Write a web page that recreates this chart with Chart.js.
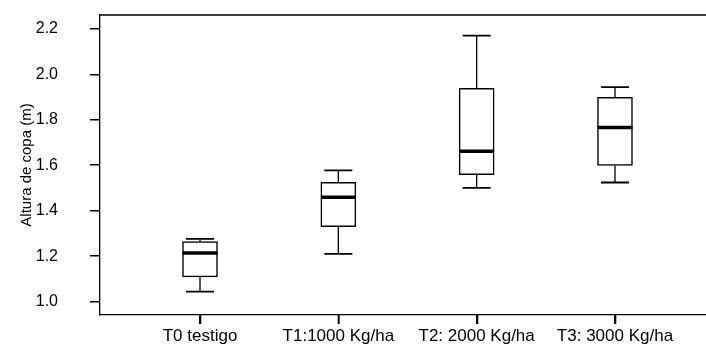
<!DOCTYPE html>
<html>
<head>
<meta charset="utf-8">
<script src="https://cdn.jsdelivr.net/npm/chart.js@4/dist/chart.umd.min.js"></script>
<style>
  html, body { margin: 0; padding: 0; background: #fff; }
  #wrap { width: 706px; height: 355px; }
</style>
</head>
<body>
<div id="wrap"><canvas id="c" width="706" height="355"></canvas></div>
<script>
// Data
const categories = ['T0 testigo', 'T1:1000 Kg/ha', 'T2: 2000 Kg/ha', 'T3: 3000 Kg/ha'];
const whiskerMin = [1.044, 1.210, 1.500, 1.524];
const quartile1  = [1.109, 1.330, 1.558, 1.599];
const medians    = [1.214, 1.459, 1.661, 1.766];
const quartile3  = [1.264, 1.525, 1.938, 1.899];
const whiskerMax = [1.276, 1.577, 2.170, 1.944];
const yTicks = [1.0, 1.2, 1.4, 1.6, 1.8, 2.0, 2.2];

const boxData = categories.map((c, i) => ({ x: i, y: [quartile1[i], quartile3[i]] }));

const boxPlugin = {
  id: 'boxExtras',
  afterDatasetsDraw(chart) {
    const ctx = chart.ctx;
    const xs = chart.scales.x, ys = chart.scales.y;
    ctx.save();
    ctx.setLineDash([]);
    ctx.strokeStyle = '#000';
    categories.forEach((c, i) => {
      const x = xs.getPixelForValue(i);
      const yMin = ys.getPixelForValue(whiskerMin[i]);
      const yQ1 = ys.getPixelForValue(quartile1[i]);
      const yQ3 = ys.getPixelForValue(quartile3[i]);
      const yMax = ys.getPixelForValue(whiskerMax[i]);
      const yMed = ys.getPixelForValue(medians[i]);
      const capHalf = 14;
      const boxHalf = 17.5;
      // whisker stems
      ctx.lineWidth = 1.3;
      ctx.beginPath();
      ctx.moveTo(x, yQ3); ctx.lineTo(x, yMax);
      ctx.moveTo(x, yQ1); ctx.lineTo(x, yMin);
      ctx.stroke();
      // caps
      ctx.lineWidth = 1.8;
      ctx.beginPath();
      ctx.moveTo(x - capHalf, yMax); ctx.lineTo(x + capHalf, yMax);
      ctx.moveTo(x - capHalf, yMin); ctx.lineTo(x + capHalf, yMin);
      ctx.stroke();
      // median
      ctx.lineWidth = 3.5;
      ctx.beginPath();
      ctx.moveTo(x - boxHalf, yMed); ctx.lineTo(x + boxHalf, yMed);
      ctx.stroke();
    });
    ctx.restore();
  },
  afterDraw(chart) {
    const ctx = chart.ctx, a = chart.chartArea, xs = chart.scales.x;
    ctx.save();
    ctx.setLineDash([]);
    ctx.strokeStyle = '#000';
    // top frame line
    ctx.lineWidth = 1.3;
    ctx.beginPath();
    ctx.moveTo(a.left, a.top); ctx.lineTo(a.right, a.top);
    ctx.stroke();
    // x-axis tick marks below the axis at each category
    ctx.lineWidth = 1.6;
    ctx.beginPath();
    categories.forEach((c, i) => {
      const x = Math.round(xs.getPixelForValue(i)) + 0.5;
      ctx.moveTo(x, xs.top);
      ctx.lineTo(x, xs.top + 9);
    });
    ctx.stroke();
    ctx.restore();
  }
};

new Chart(document.getElementById('c'), {
  type: 'bar',
  data: {
    datasets: [{
      data: boxData,
      backgroundColor: '#ffffff',
      borderColor: '#000000',
      borderWidth: 1.5,
      borderSkipped: false,
      barThickness: 35
    }]
  },
  options: {
    responsive: false,
    animation: false,
    events: [],
    layout: { padding: { top: 15, right: 0, bottom: 0, left: 0 } },
    plugins: { legend: { display: false }, tooltip: { enabled: false } },
    scales: {
      x: {
        type: 'linear',
        offset: false,
        min: -0.723,
        max: 3.658,
        afterBuildTicks: (s) => { s.ticks = categories.map((c, i) => ({ value: i })); },
        afterFit: (s) => { s.height = 40; },
        ticks: {
          callback: (v) => categories[v] ?? '',
          color: '#000',
          font: { family: 'Liberation Sans, Arial, sans-serif', size: 17 },
          padding: 2,
          maxRotation: 0,
          autoSkip: false
        },
        grid: {
          offset: false, drawOnChartArea: false, drawTicks: true, tickLength: 9,
          tickBorderDash: [], tickColor: '#000', tickWidth: 1.5,
          color: '#000', lineWidth: 1.5
        },
        border: { display: true, color: '#000', width: 1.3 }
      },
      y: {
        min: 0.941,
        max: 2.261,
        afterBuildTicks: (s) => { s.ticks = yTicks.map(v => ({ value: v })); },
        afterFit: (s) => { s.width = 100; },
        ticks: {
          callback: (v) => v.toFixed(1),
          color: '#000',
          font: { family: 'Liberation Sans, Arial, sans-serif', size: 16 },
          padding: 0
        },
        grid: {
          drawOnChartArea: false, drawTicks: true, tickLength: 42,
          tickBorderDash: [0, 32, 10, 200],
          color: '#000', lineWidth: 1.5
        },
        border: { display: true, color: '#000', width: 1.3 },
        title: {
          display: true,
          text: 'Altura de copa (m)',
          color: '#000',
          font: { family: 'Liberation Sans, Arial, sans-serif', size: 15 },
          padding: { top: 18, bottom: 0 }
        }
      }
    }
  },
  plugins: [boxPlugin]
});
</script>
</body>
</html>
